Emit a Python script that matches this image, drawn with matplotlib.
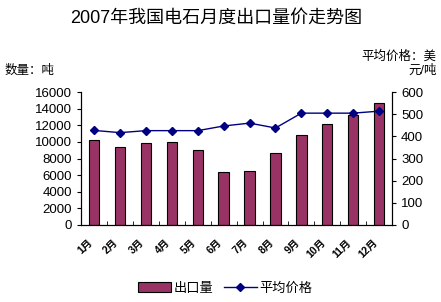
import matplotlib
matplotlib.use('Agg')
import matplotlib.pyplot as plt
import numpy as np

plt.rcParams['font.family'] = ['Liberation Sans', 'Noto Sans CJK SC', 'DejaVu Sans']

months = ['1月', '2月', '3月', '4月', '5月', '6月', '7月', '8月', '9月', '10月', '11月', '12月']
volume = [10280, 9360, 9840, 10040, 9000, 6360, 6480, 8640, 10800, 12120, 13200, 14640]
price = [427, 417, 426, 426, 426, 447, 460, 438, 505, 505, 505, 514]

fig = plt.figure(figsize=(4.41, 3.02), dpi=100)
ax = fig.add_axes([0.184, 0.255, 0.705, 0.44])
x = np.arange(len(months))

bars = ax.bar(x, volume, width=0.4, color='#993366', edgecolor='black', linewidth=0.8, label='出口量')
ax.set_ylim(0, 16000)
ax.set_yticks(range(0, 16001, 2000))
ax.set_xlim(-0.5, len(months) - 0.5)
ax.set_xticks(x)
ax.set_xticklabels(months, rotation=45, ha='right', fontweight='bold', fontsize=7.5)
ax.tick_params(axis='x', length=0, pad=9)
ax.set_xticks(np.arange(-0.5, len(months)), minor=True)
ax.tick_params(axis='x', which='minor', direction='in', length=3)
ax.tick_params(axis='y', labelsize=9.5, length=3, direction='out')
ax.spines['top'].set_visible(False)

ax2 = ax.twinx()
line, = ax2.plot(x, price, color='#000080', marker='D', markersize=4.5, linewidth=1, label='平均价格')
ax2.set_ylim(0, 600)
ax2.set_yticks(range(0, 601, 100))
ax2.tick_params(axis='y', labelsize=9.5, length=3, direction='out')
ax2.spines['top'].set_visible(False)

fig.text(0.49, 0.94, '2007年我国电石月度出口量价走势图', ha='center', va='center', fontsize=13)
fig.text(0.01, 0.765, '数量：吨', ha='left', va='center', fontsize=9)
fig.text(0.99, 0.79, '平均价格：美\n元/吨', ha='right', va='center', fontsize=9, linespacing=1.2)

fig.legend(handles=[bars, line], loc='center', bbox_to_anchor=(0.51, 0.045), ncol=2,
           frameon=False, fontsize=9.5, handlelength=2.5, columnspacing=0.8, handletextpad=0.2)

fig.savefig('out.png', dpi=100)
